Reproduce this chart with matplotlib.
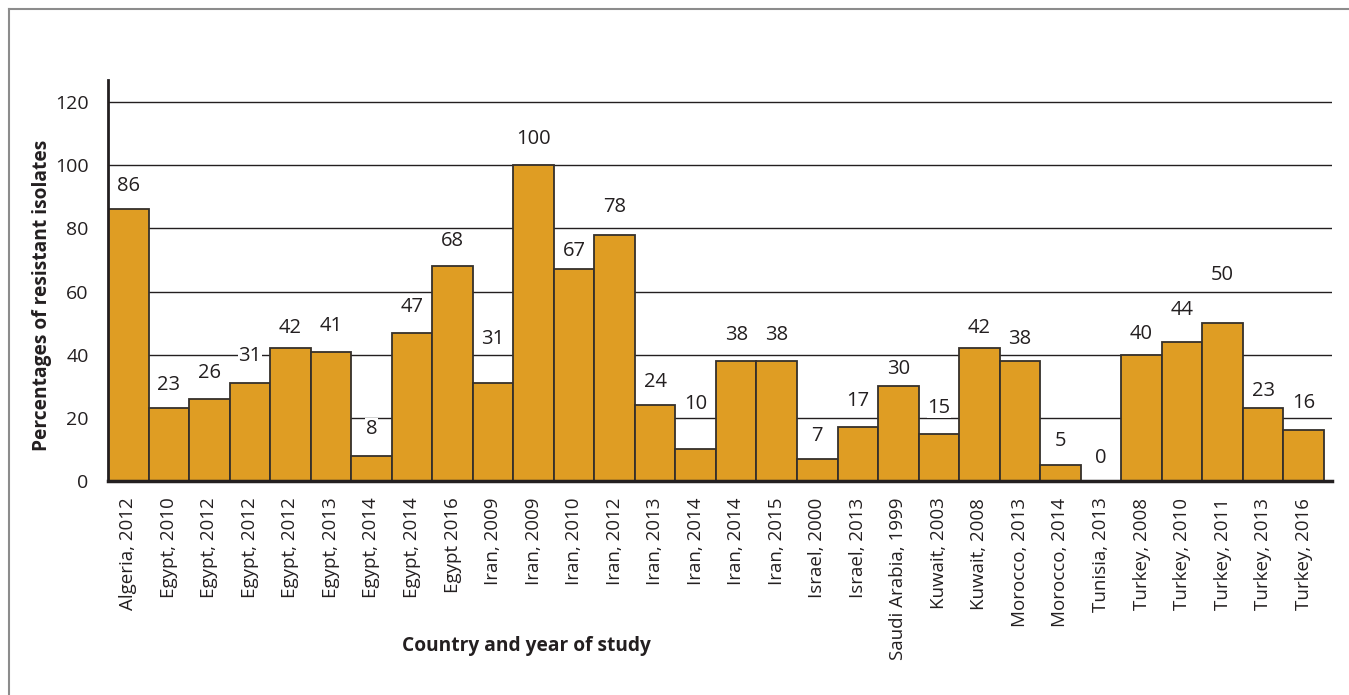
import matplotlib.pyplot as plt
from matplotlib.lines import Line2D

plt.rcParams['font.family'] = ['Open Sans', 'DejaVu Sans']

studies = ["Algeria, 2012", "Egypt, 2010", "Egypt, 2012", "Egypt, 2012",
           "Egypt, 2012", "Egypt, 2013", "Egypt, 2014", "Egypt, 2014",
           "Egypt 2016", "Iran, 2009", "Iran, 2009", "Iran, 2010",
           "Iran, 2012", "Iran, 2013", "Iran, 2014", "Iran, 2014",
           "Iran, 2015", "Israel, 2000", "Israel, 2013", "Saudi Arabia, 1999",
           "Kuwait, 2003", "Kuwait, 2008", "Morocco, 2013", "Morocco, 2014",
           "Tunisia, 2013", "Turkey, 2008", "Turkey, 2010", "Turkey, 2011",
           "Turkey, 2013", "Turkey, 2016"]
resistant = [86, 23, 26, 31, 42, 41, 8, 47, 68, 31,
             100, 67, 78, 24, 10, 38, 38, 7, 17, 30,
             15, 42, 38, 5, 0, 40, 44, 50, 23, 16]
y_ticks = [0, 20, 40, 60, 80, 100, 120]

# how far above each bar its number sits (percentage points)
label_lift = [7.3, 7.5, 8.3, 8.7, 6.6, 8.2, 8.5, 8, 7.9, 14,
              8.3, 6, 8.7, 7.4, 14.4, 8.3, 8.3, 7.3, 8.4, 5.6,
              8.2, 6.3, 7, 7.7, 7.3, 6.7, 10, 15.4, 5.6, 8.8]

bar_color = '#DF9D23'
edge_color = '#35302b'
ink = '#231f20'

fig = plt.figure(figsize=(13.49, 6.95), dpi=100)
ax = fig.add_axes([108 / 1349, 1 - 481 / 695, 1224 / 1349, 401 / 695])

x = range(len(studies))
ax.bar(x, resistant, width=1.0, color=bar_color, edgecolor=edge_color,
       linewidth=1.3, zorder=3)

for i, v in enumerate(resistant):
    ax.text(i, v + label_lift[i], str(v), ha='center', va='center',
            fontsize=14.5, color=ink, zorder=2,
            bbox=dict(facecolor='white', edgecolor='none', pad=0.3))

for t in y_ticks[1:]:
    ax.axhline(t, color=ink, linewidth=1.0, zorder=1)

ax.set_xlim(-0.5, 29.7)
ax.set_ylim(0, 127)
ax.set_yticks(y_ticks)
ax.set_xticks(list(x))
ax.set_xticklabels(studies, rotation=90, fontsize=13.5, color=ink)
ax.tick_params(axis='y', length=0, pad=14, labelsize=14, labelcolor=ink)
ax.tick_params(axis='x', length=0, pad=12)

for side in ['top', 'right']:
    ax.spines[side].set_visible(False)
ax.spines['left'].set_linewidth(2.0)
ax.spines['left'].set_color(ink)
ax.spines['bottom'].set_linewidth(2.5)
ax.spines['bottom'].set_color(ink)
ax.spines['left'].set_zorder(5)
ax.spines['bottom'].set_zorder(5)

fig.text(42 / 1349, 1 - 295 / 695, 'Percentages of resistant isolates',
         rotation=90, ha='center', va='center', fontsize=13.8,
         fontweight='bold', color=ink)
fig.text(526 / 1349, 1 - 646 / 695, 'Country and year of study',
         ha='center', va='center', fontsize=13.8, fontweight='bold',
         color=ink)

# grey frame along the top and left of the figure
fig.add_artist(Line2D([9 / 1349, 9 / 1349], [0, 1 - 9 / 695],
                      transform=fig.transFigure, color='#8c8c8c', lw=1.5))
fig.add_artist(Line2D([9 / 1349, 1], [1 - 9 / 695, 1 - 9 / 695],
                      transform=fig.transFigure, color='#8c8c8c', lw=1.5))

fig.savefig('out.png', dpi=100)
